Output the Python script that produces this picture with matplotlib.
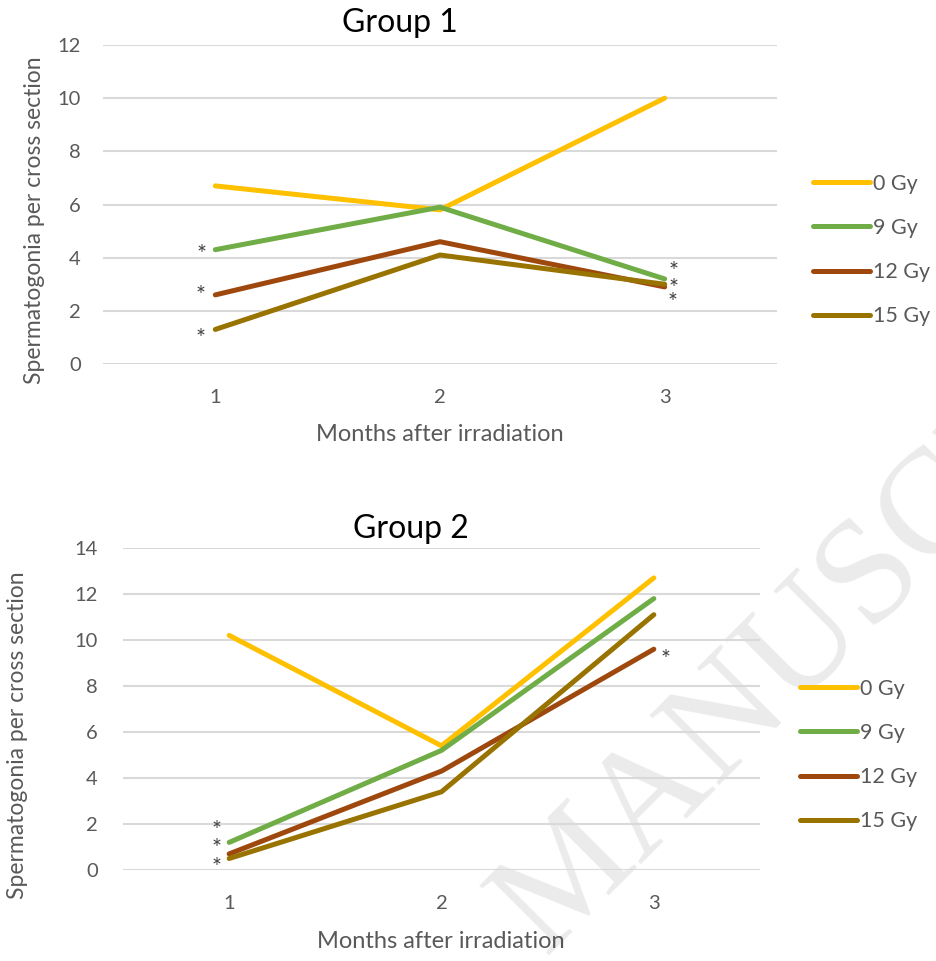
import matplotlib
matplotlib.use("Agg")
import matplotlib.pyplot as plt

plt.rcParams['font.family'] = ['Lato', 'DejaVu Sans']

# ---- data ----
months = [1, 2, 3]
series_labels = ["0 Gy", "9 Gy", "12 Gy", "15 Gy"]
colors = ["#FFC000", "#70AD47", "#9E480E", "#997300"]

group1_0gy = [6.7, 5.8, 10.0]
group1_9gy = [4.3, 5.9, 3.2]
group1_12gy = [2.6, 4.6, 2.9]
group1_15gy = [1.3, 4.1, 3.0]

group2_0gy = [10.2, 5.4, 12.7]
group2_9gy = [1.2, 5.2, 11.8]
group2_12gy = [0.7, 4.3, 9.6]
group2_15gy = [0.5, 3.4, 11.1]

group1_ticks = [0, 2, 4, 6, 8, 10, 12]
group2_ticks = [0, 2, 4, 6, 8, 10, 12, 14]

# significance marks: (month, series index)
group1_sig = [(1, 1), (1, 2), (1, 3), (3, 1), (3, 3), (3, 2)]
group2_sig = [(1, 1), (1, 2), (1, 3), (3, 2)]

W, H = 937, 961
fig = plt.figure(figsize=(W / 100, H / 100), dpi=100)

TICK_COLOR = "#595959"
GRID_COLOR = "#D9D9D9"


def style_axis(ax, ticks, ypad, xpad):
    ax.set_facecolor("none")
    for s in ax.spines.values():
        s.set_visible(False)
    ax.set_xlim(0.5, 3.5)
    ax.set_ylim(ticks[0], ticks[-1])
    ax.set_yticks(ticks)
    ax.set_xticks(months)
    ax.set_xticklabels([str(m) for m in months])
    ax.tick_params(axis="both", length=0, labelsize=14.5, labelcolor=TICK_COLOR)
    ax.tick_params(axis="y", pad=ypad)
    ax.tick_params(axis="x", pad=xpad)
    ax.grid(axis="y", color=GRID_COLOR, linewidth=1.5)
    ax.set_axisbelow(True)


def draw_group(ax, data, sig, offsets, title, title_x, title_pad, ticks, ypad, xpad,
               ylab_pos, xlab_pos, leg_anchor):
    style_axis(ax, ticks, ypad, xpad)
    handles = []
    for vals, lab, col in zip(data, series_labels, colors):
        (ln,) = ax.plot(months, vals, color=col, linewidth=3.6, label=lab,
                        solid_capstyle="round", solid_joinstyle="miter", clip_on=False)
        handles.append(ln)
    for (m, si), off in zip(sig, offsets):
        ax.annotate("*", xy=(m, data[si][m - 1]), xytext=off, textcoords="offset points",
                    ha="center", va="baseline", fontsize=17, color="#404040",
                    annotation_clip=False)
    ax.set_title(title, fontsize=23, color="black", pad=title_pad, x=title_x)
    ax.set_ylabel("Spermatogonia per cross section", fontsize=16.5, color=TICK_COLOR)
    ax.yaxis.set_label_coords(*ylab_pos, transform=fig.transFigure)
    ax.set_xlabel("Months after irradiation", fontsize=17, color=TICK_COLOR)
    ax.xaxis.set_label_coords(*xlab_pos, transform=fig.transFigure)
    leg = ax.legend(handles=handles, loc="center left", bbox_to_anchor=leg_anchor,
                    bbox_transform=fig.transFigure, frameon=False, fontsize=15.5,
                    handlelength=2.65, handletextpad=0.12, labelspacing=1.12,
                    borderpad=0, borderaxespad=0)
    for t in leg.get_texts():
        t.set_color(TICK_COLOR)
    return ax


# top panel
ax1 = fig.add_axes([103 / W, 1 - 364 / H, (777 - 103) / W, (364 - 45) / H])
d1 = [group1_0gy, group1_9gy, group1_12gy, group1_15gy]
off1 = [(-10, -8), (-10.5, -5), (-11, -11), (6.5, 1), (6.5, -8), (6, -16)]
draw_group(ax1, d1, group1_sig, off1, "Group 1", 0.44, 9, group1_ticks, 16, 18,
           (45 / W, 1 - 220 / H), (440 / W, 1 - 424 / H), (813 / W, 1 - 250 / H))

# bottom panel
ax2 = fig.add_axes([123 / W, 1 - 870 / H, (760 - 123) / W, (870 - 548) / H])
d2 = [group2_0gy, group2_9gy, group2_12gy, group2_15gy]
off2 = [(-9.4, 4), (-9.4, -1), (-9.4, -11), (8.6, -12)]
draw_group(ax2, d2, group2_sig, off2, "Group 2", 0.452, 7, group2_ticks, 18, 18,
           (28 / W, 1 - 735 / H), (441 / W, 1 - 931 / H), (800 / W, 1 - 755 / H))

# faint watermark
fig.text(545 / W, 1 - 955 / H, "MANUSCRIPT", rotation=45, rotation_mode="anchor",
         ha="left", va="baseline", fontsize=108, family="Liberation Serif",
         color="#EBEBEB", zorder=-1)

fig.savefig("out.png", dpi=100, facecolor="white")
